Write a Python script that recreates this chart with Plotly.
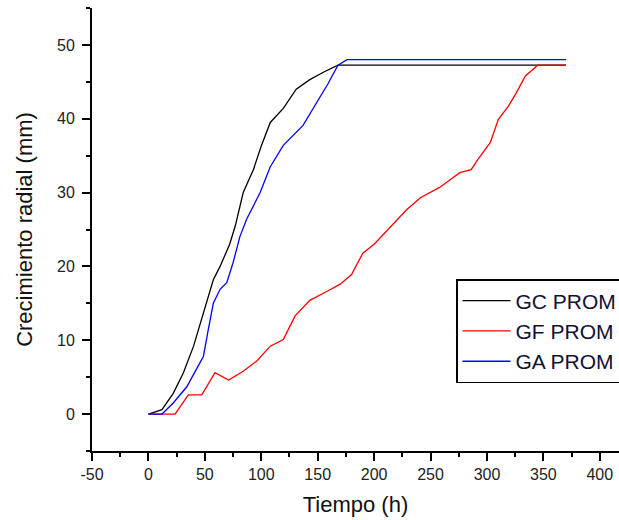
import plotly.graph_objects as go

# GC PROM (black)
gc_x = [0, 6, 12, 22, 31, 40, 47, 53, 57.5, 63.5, 72, 77, 84, 93, 100, 108, 119.5, 131, 143, 155, 168, 370]
gc_y = [0, 0.3, 0.6, 2.8, 5.6, 9.2, 12.8, 16, 18.2, 20, 23, 25.5, 30, 33.1, 36.3, 39.5, 41.4, 44, 45.3, 46.3, 47.25, 47.25]

# GF PROM (red)
gf_x = [0, 23.6, 35.4, 47.3, 59, 71, 84, 96, 108, 119.5, 130, 143, 158, 170, 180, 190, 200, 217, 229, 241, 258,
        276, 286, 292, 303, 310, 319, 326, 334, 345, 370]
gf_y = [0, 0, 2.6, 2.6, 5.6, 4.6, 5.8, 7.2, 9.2, 10.1, 13.3, 15.4, 16.6, 17.6, 18.9, 21.8, 23, 25.7, 27.7, 29.3, 30.7,
        32.7, 33.1, 34.5, 36.8, 39.9, 41.7, 43.5, 45.8, 47.25, 47.25]

# GA PROM (blue)
ga_x = [0, 12, 22, 34, 44, 48.7, 53, 57.5, 63.5, 69.4, 75, 81, 87, 99, 108, 119.5, 137, 150, 159, 168, 176, 370]
ga_y = [0, 0, 1.5, 3.7, 6.5, 7.8, 11.4, 15, 16.9, 17.8, 20.5, 24, 26.4, 30, 33.5, 36.4, 39.1, 42.3, 44.7, 47.25, 48, 48]

# tick labels
x_tickvals = [-50, 0, 50, 100, 150, 200, 250, 300, 350, 400]
x_ticktext = ["-50", "0", "50", "100", "150", "200", "250", "300", "350", "400"]
y_tickvals = [0, 10, 20, 30, 40, 50]
y_ticktext = ["0", "10", "20", "30", "40", "50"]

FONT = "Liberation Sans, Arial, sans-serif"

fig = go.Figure()
fig.add_trace(go.Scatter(x=gc_x, y=gc_y, mode="lines", name="GC PROM", line=dict(color="black", width=1.3)))
fig.add_trace(go.Scatter(x=gf_x, y=gf_y, mode="lines", name="GF PROM", line=dict(color="#ff0000", width=1.3)))
fig.add_trace(go.Scatter(x=ga_x, y=ga_y, mode="lines", name="GA PROM", line=dict(color="#0000ff", width=1.3)))

axis_common = dict(
    showgrid=False, zeroline=False, showline=True, linecolor="black", linewidth=2,
    ticks="outside", ticklen=8, tickwidth=1.5, tickcolor="black",
    tickfont=dict(family=FONT, size=16, color="#222222"),
)

fig.update_xaxes(
    range=[-50, 417], tickmode="array", tickvals=x_tickvals, ticktext=x_ticktext,
    minor=dict(ticks="outside", ticklen=4, tickwidth=1.5, tickcolor="black", dtick=25, tick0=0),
    title=dict(text="Tiempo (h)", font=dict(family=FONT, size=22, color="#111111"), standoff=14),
    **axis_common,
)
fig.update_yaxes(
    range=[-5, 55], tickmode="array", tickvals=y_tickvals, ticktext=y_ticktext,
    minor=dict(ticks="outside", ticklen=4, tickwidth=1.5, tickcolor="black", dtick=5, tick0=0),
    title=dict(text="Crecimiento radial (mm)", font=dict(family=FONT, size=22, color="#111111"), standoff=18),
    ticklabelstandoff=4,
    **axis_common,
)

fig.update_layout(
    width=619, height=520,
    margin=dict(l=92, r=0, t=8, b=69, autoexpand=False),
    plot_bgcolor="white", paper_bgcolor="white",
    legend=dict(
        x=(456 - 92) / 527, y=(451 - 279) / 443, xanchor="left", yanchor="top",
        bgcolor="white", bordercolor="black", borderwidth=1.5,
        font=dict(family=FONT, size=21, color="#111133"),
        itemwidth=48, tracegroupgap=0,
    ),
    showlegend=True,
)

fig.write_html("out.html")
